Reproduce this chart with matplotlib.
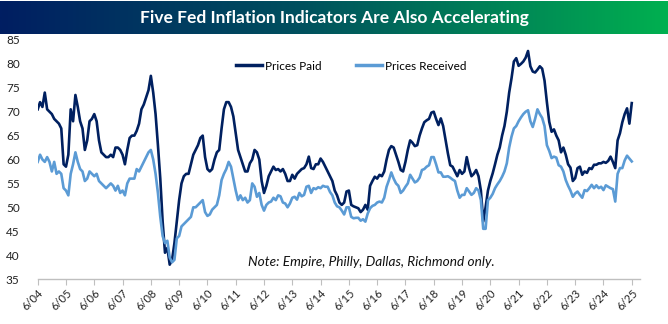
import numpy as np
import matplotlib
matplotlib.use("Agg")
import matplotlib.pyplot as plt
from matplotlib.colors import LinearSegmentedColormap

plt.rcParams['font.family'] = ['Lato', 'DejaVu Sans']

title = "Five Fed Inflation Indicators Are Also Accelerating"
note = "Note: Empire, Philly, Dallas, Richmond only."
tick_labels = ["6/%02d" % y for y in range(4, 26)]

# Monthly values, June 2004 -> June 2025
prices_paid = [
    70.5, 72, 71, 74, 70.5, 70, 69.5, 68.5, 68, 67.5, 66.5, 59,
    58.5, 61, 70.5, 68, 73.5, 71, 68, 66.5, 62, 64, 68, 68.5,
    69.5, 68, 64, 61.5, 61, 60.5, 60.5, 61, 60.5, 62.5, 62.5, 62,
    61, 59, 62, 64.5, 65, 65, 66, 67.5, 70.5, 71.5, 73, 74.5,
    77.5, 74, 69.5, 63, 56, 47, 40.5, 41.5, 38, 39, 42.5, 47,
    51.5, 55, 56.5, 57, 57, 59, 61, 62, 63, 64.5, 65, 60.5,
    58, 57.5, 58, 60, 61.5, 62, 66.5, 70.5, 72, 72, 71, 69,
    65.5, 62, 60.5, 59, 57.5, 57.5, 59.2, 60, 62, 61.5, 60, 55.5,
    53, 54.5, 56.5, 57.5, 58.5, 57.8, 58, 57.5, 58, 57, 55.5, 55.5,
    56.8, 56, 57, 57.5, 58, 58.2, 59, 60.6, 58.2, 58, 59, 59,
    60.2, 59.5, 58.5, 57.5, 56.5, 55.5, 53.5, 52.5, 51, 50.5, 51, 53.3,
    53.5, 50.5, 50.2, 50, 49.8, 49, 49.5, 50.5, 49.5, 54.5, 55.5, 56.4,
    56, 56.8, 56.5, 57.5, 60, 62, 62.8, 62.5, 61, 59.5, 57.8, 57.5,
    59.5, 62, 64, 63.5, 62.8, 63, 65, 66.5, 67.8, 68.2, 68.5, 69.8,
    70, 68.5, 67.2, 68.6, 67, 64.1, 61.3, 58.8, 58.5, 57.5, 56.5, 57.8,
    57, 57.5, 60.5, 58.2, 56.5, 57, 57.8, 56.5, 53.5, 47, 50, 53.5,
    55.5, 57.1, 59, 61, 62.5, 65, 67, 70, 74, 77, 80.5, 81.2,
    79.6, 80, 80.5, 81.3, 82.7, 79.5, 78.4, 78.2, 78.8, 79.5, 79, 76.5,
    72, 67.9, 65.8, 66.3, 65, 64, 61.5, 62.5, 61, 59, 58.3, 55.5,
    56.1, 58.2, 58.5, 56.8, 57.5, 57.2, 58.2, 58, 58.9, 58.9, 59.2, 59.2,
    59.5, 59.3, 59.7, 60.6, 59.5, 58.2, 64, 65.5, 67.8, 69.5, 70.7, 67.5,
    71.8,
]
prices_received = [
    59.5, 61, 60, 59.5, 60.5, 59.5, 57.5, 59.5, 57, 57.5, 57, 54,
    53.5, 52.5, 57, 59, 61.5, 59.5, 58, 57.5, 55.5, 56, 57.5, 57,
    56.5, 57, 55.5, 55, 54.5, 54, 54.5, 55, 54.5, 53.5, 54.5, 53,
    53.5, 52.5, 55, 56, 56, 56, 58, 57.5, 58.5, 59.5, 60.5, 61.5,
    62, 60, 57, 53, 48, 44, 42.5, 43, 39.5, 38.5, 39, 43.5,
    44, 46, 46.5, 47, 47.5, 48, 50, 50, 50.5, 51, 51.5, 49,
    48.2, 48.5, 49.5, 50, 50.5, 52.5, 55.7, 57, 58, 59.5, 58.5, 56,
    53.5, 51.5, 52.5, 51.5, 52, 51, 51.5, 55, 54.3, 52.2, 53, 50.5,
    49.3, 50.5, 51, 51.2, 52, 51.5, 52.5, 52.3, 51, 50.8, 50, 50.8,
    52, 52.2, 51.6, 53, 52.3, 52.6, 54.3, 54.5, 53, 54, 53.8, 54.2,
    54, 54.5, 54.3, 54.3, 53.2, 52.5, 51, 50.2, 50, 49.3, 48.5, 50,
    50, 48, 47.7, 47.8, 47.8, 47.2, 47.5, 47, 48.7, 49.8, 50.3, 50.5,
    51, 51.2, 51, 52, 54.3, 55.7, 57.3, 56, 55, 54.5, 53, 53.5,
    54.3, 55, 56.8, 56, 55.2, 55.5, 56.2, 57.8, 58, 58.5, 58.8, 60.5,
    60.5, 59, 57.3, 57.3, 56.4, 56.4, 56.5, 56.2, 55.8, 55.5, 53.5, 52,
    52.6, 52.6, 54, 53.3, 52.6, 53, 54, 53.5, 51.5, 45.5, 45.5, 51.5,
    52, 52.8, 54, 54.8, 55.5, 56.4, 57.5, 59.2, 62.5, 64.8, 66.5, 67,
    68, 68.8, 69.5, 70, 70.3, 68, 66.8, 68.5, 70.5, 69.5, 68.7, 67,
    63, 61.8, 60.3, 60.6, 60.4, 58.8, 58.5, 57.5, 55.7, 54.5, 53.5, 52.2,
    52.9, 53.3, 52.6, 52, 53.6, 53.4, 54, 54.7, 54, 54.6, 54, 54.3,
    53.6, 54.6, 54.3, 54, 53.8, 51.2, 57, 58.2, 58.2, 59.8, 60.8, 60.2,
    59.6,
]

W, H = 668, 324
fig = plt.figure(figsize=(W / 100, H / 100), dpi=100)
fig.patch.set_facecolor("white")

# Title bar with gradient
tax = fig.add_axes([0, (H - 34) / H, 1, 33 / H])
cmap = LinearSegmentedColormap.from_list(
    "bar", [(0.0, "#001e62"), (0.45, "#00505e"), (1.0, "#00b050")])
grad = np.linspace(0, 1, 512).reshape(1, -1)
tax.imshow(grad, aspect="auto", cmap=cmap, extent=[0, 1, 0, 1])
tax.set_axis_off()
tax.text(0.5, 0.5, title, color="white", fontsize=12.5, fontweight="bold",
         ha="center", va="center", transform=tax.transAxes)

# Main axes
left_px, right_px = 37.7, 640
top_px, bot_px = 40, 279
ax = fig.add_axes([left_px / W, (H - bot_px) / H,
                   (right_px - left_px) / W, (bot_px - top_px) / H])
x = np.arange(len(prices_paid))
ax.plot(x, prices_paid, color="#002060", lw=1.9, label="Prices Paid",
        solid_joinstyle="round")
ax.plot(x, prices_received, color="#5b9bd5", lw=1.9, label="Prices Received",
        solid_joinstyle="round")

ax.set_xlim(0, 255.5)
ax.set_ylim(35, 85)
ax.set_yticks(np.arange(35, 86, 5))
ax.set_xticks(np.arange(0, 253, 12))
ax.set_xticklabels(tick_labels, rotation=45, ha="right", va="top",
                   rotation_mode="anchor", fontsize=8, color="#222222")
ax.tick_params(axis="x", length=4, color="#bfbfbf", pad=2)
ax.tick_params(axis="y", length=0, pad=13, labelsize=8.5, labelcolor="#222222")
for s in ["top", "right", "left"]:
    ax.spines[s].set_visible(False)
ax.spines["bottom"].set_color("#bfbfbf")
ax.spines["bottom"].set_linewidth(1)
ax.patch.set_alpha(0)

leg = ax.legend(loc="center left", bbox_to_anchor=(236 / W, (H - 66) / H),
                bbox_transform=fig.transFigure, ncol=2,
                frameon=False, fontsize=8.5, handlelength=2.2,
                columnspacing=2.9, handletextpad=0.25,
                borderpad=0, borderaxespad=0)
for line in leg.get_lines():
    line.set_linewidth(2.5)

fig.text(371 / W, (H - 262) / H, note, fontsize=9.8, style="italic",
         ha="center", va="center", color="#111111")

fig.savefig("out.png", dpi=100)
